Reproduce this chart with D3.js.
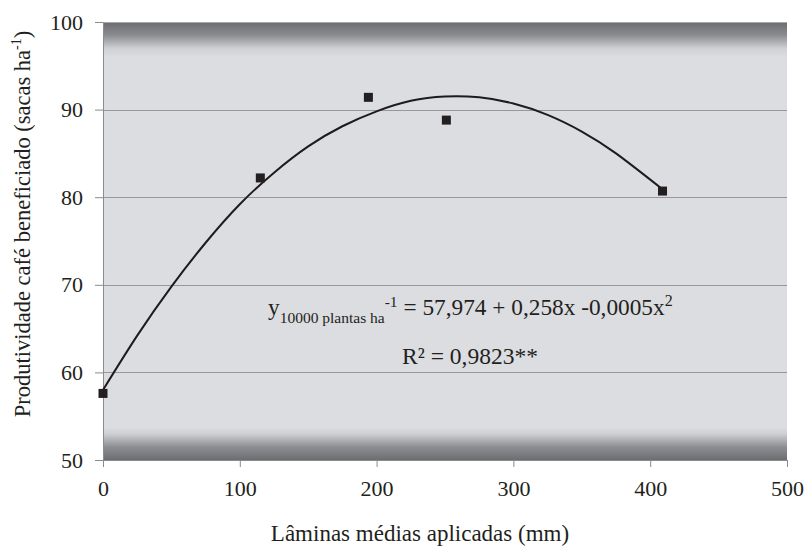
<!DOCTYPE html>
<html>
<head>
<meta charset="utf-8">
<script src="https://cdn.jsdelivr.net/npm/d3@7"></script>
<style>
  body { margin: 0; background: #fff; }
</style>
</head>
<body>
<svg id="vis" width="807" height="550"></svg>
<script>
// observed points (mm, sacas/ha)
let laminas = [0, 115, 194, 251, 409];
let produtividade = [57.6, 82.2, 91.4, 88.8, 80.7];

// trend line
let trendX = [0, 25, 50, 75, 100, 125, 150, 175, 200, 225, 250, 275, 300, 325, 350, 375, 409];
let trendY = [58.0, 64.2, 69.8, 74.8, 79.2, 82.8, 85.8, 88.1, 89.8, 91.0, 91.5, 91.4, 90.7, 89.4, 87.5, 85.0, 80.9];

let xTicks = [0, 100, 200, 300, 400, 500];
let yTicks = [50, 60, 70, 80, 90, 100];

const FONT = "'Liberation Serif'";

let svg = d3.select("#vis");
let margin = {left: 103, right: 20, top: 22, bottom: 90};
let width = 807 - margin.left - margin.right,
    height = 550 - margin.top - margin.bottom;

let x = d3.scaleLinear().domain([0, 500]).range([0, width]);
let y = d3.scaleLinear().domain([50, 100]).range([height, 0]);

let defs = svg.append("defs");
let grad = defs.append("linearGradient")
    .attr("id", "bg")
    .attr("x1", 0).attr("y1", 0).attr("x2", 0).attr("y2", 1);
[[0, "#6b6c71"], [0.03, "#8b8c90"], [0.06, "#cfd0d3"], [0.08, "#dcdde0"],
 [0.925, "#dcdde0"], [0.94, "#cfd0d3"], [0.97, "#8e8f93"], [1, "#6c6d72"]]
    .forEach(function (s) {
        grad.append("stop").attr("offset", s[0]).attr("stop-color", s[1]);
    });

let g = svg.append("g").attr("transform", "translate(" + margin.left + "," + margin.top + ")");

g.append("rect")
    .attr("width", width)
    .attr("height", height)
    .attr("fill", "url(#bg)");

// gridlines
g.selectAll(".grid")
    .data(yTicks.slice(1))
    .enter()
    .append("line")
    .attr("x1", 0).attr("x2", width)
    .attr("y1", d => Math.round(y(d)) + 0.5)
    .attr("y2", d => Math.round(y(d)) + 0.5)
    .attr("stroke", d => d === 100 ? "#a8a9ac" : "#97989b")
    .attr("stroke-width", 1);

// axes
let yAxis = g.append("g")
    .call(d3.axisLeft(y).tickValues(yTicks).tickSize(8).tickPadding(12).tickSizeOuter(0));
let xAxis = g.append("g")
    .attr("transform", "translate(0," + height + ")")
    .call(d3.axisBottom(x).tickValues(xTicks).tickSize(7).tickPadding(13).tickSizeOuter(0));

[xAxis, yAxis].forEach(function (ax) {
    ax.attr("font-family", FONT).attr("font-size", 22);
    ax.select(".domain").attr("stroke", "#8a8b8e");
    ax.selectAll(".tick line").attr("stroke", "#8a8b8e");
    ax.selectAll("text").attr("fill", "#231f20");
});

// trend curve
let line = d3.line()
    .x((d, i) => x(trendX[i]))
    .y(d => y(d))
    .curve(d3.curveNatural);

g.append("path")
    .attr("d", line(trendY))
    .attr("fill", "none")
    .attr("stroke", "#1e1b1c")
    .attr("stroke-width", 2);

// observed points
let s = 9;
g.selectAll(".pt")
    .data(laminas)
    .enter()
    .append("rect")
    .attr("x", d => x(d) - s / 2)
    .attr("y", (d, i) => y(produtividade[i]) - s / 2)
    .attr("width", s)
    .attr("height", s)
    .attr("fill", "#231f20");

// equation
let eq = g.append("text")
    .attr("x", 268 - margin.left)
    .attr("y", 315 - margin.top)
    .attr("font-family", FONT)
    .attr("font-size", 23.3)
    .attr("fill", "#231f20");
eq.append("tspan").text("y");
eq.append("tspan").attr("font-size", 15.5).attr("dy", 8).text("10000 plantas ha");
eq.append("tspan").attr("font-size", 15.5).attr("dy", -16).text("-1");
eq.append("tspan").attr("dy", 8).text(" = 57,974 + 0,258x -0,0005x");
eq.append("tspan").attr("font-size", 16).attr("dy", -9).text("2");

g.append("text")
    .attr("x", 470 - margin.left)
    .attr("y", 364 - margin.top)
    .attr("text-anchor", "middle")
    .attr("font-family", FONT)
    .attr("font-size", 23.5)
    .attr("fill", "#231f20")
    .text("R² = 0,9823**");

// axis titles
svg.append("text")
    .attr("x", 420)
    .attr("y", 541)
    .attr("text-anchor", "middle")
    .attr("font-family", FONT)
    .attr("font-size", 23)
    .attr("fill", "#231f20")
    .text("Lâminas médias aplicadas (mm)");

let yl = svg.append("text")
    .attr("transform", "translate(30,224) rotate(-90)")
    .attr("text-anchor", "middle")
    .attr("font-family", FONT)
    .attr("font-size", 22.5)
    .attr("fill", "#231f20");
yl.append("tspan").text("Produtividade café beneficiado (sacas ha");
yl.append("tspan").attr("font-size", 14).attr("dy", -9).text("-1");
yl.append("tspan").attr("dy", 9).text(")");
</script>
</body>
</html>
